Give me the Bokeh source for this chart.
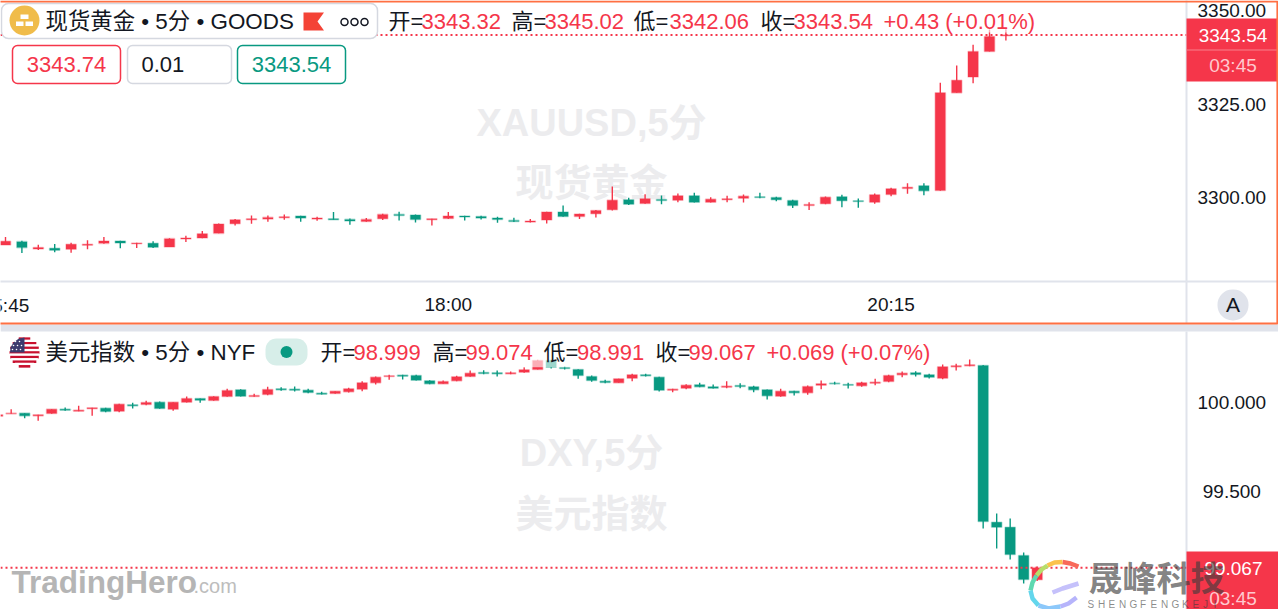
from bokeh.plotting import figure
from bokeh.models import BoxAnnotation, Label, Span, FixedTicker
from bokeh.core.properties import value
from bokeh.embed import file_html
from bokeh.resources import INLINE

# ---------- gold, 5 minute candles ----------
gold_open = [3287.29,3288.18,3286.22,3286.40,3286.13,3287.20,3287.73,3288.36,3287.64,3287.73,3286.76,3288.89,3289.16,3290.40,3292.98,3294.04,3294.22,3294.58,3295.02,3294.22,3294.31,3294.13,3293.60,3294.31,3295.47,3295.29,3294.04,3294.40,3295.02,3294.93,3294.49,3293.87,3293.42,3293.96,3296.09,3294.93,3295.64,3296.71,3299.38,3298.40,3299.47,3299.29,3300.44,3298.76,3299.38,3299.82,3300.18,3300.00,3299.20,3297.87,3298.31,3300.18,3299.11,3298.76,3300.80,3302.41,3303.12,3301.87,3328.02,3332.27,3339.08,3343.32]
gold_high = [3289.42,3288.44,3287.38,3287.56,3287.91,3288.53,3289.42,3288.44,3287.91,3288.27,3289.07,3289.78,3291.02,3293.07,3294.22,3295.20,3295.20,3295.47,3295.11,3294.84,3296.09,3294.40,3294.49,3295.64,3296.18,3295.47,3294.31,3296.09,3295.11,3295.11,3294.84,3294.58,3294.22,3296.18,3297.87,3295.64,3296.62,3302.93,3299.91,3300.89,3300.53,3301.07,3301.24,3300.09,3300.44,3300.80,3301.24,3300.18,3299.38,3298.76,3300.27,3300.71,3299.73,3301.07,3302.58,3303.83,3303.83,3330.70,3335.34,3340.87,3344.98,3345.02]
gold_low = [3287.29,3285.16,3285.96,3285.33,3285.24,3286.13,3287.64,3286.40,3286.49,3286.49,3286.76,3288.09,3289.07,3290.40,3292.53,3292.98,3293.51,3294.04,3293.51,3293.78,3294.04,3292.71,3293.51,3293.96,3293.87,3293.33,3292.53,3294.22,3293.87,3294.13,3293.24,3293.42,3293.33,3293.07,3294.84,3294.22,3294.67,3296.53,3297.96,3298.31,3298.22,3298.76,3298.67,3298.67,3298.76,3298.67,3299.82,3299.02,3297.16,3296.62,3298.22,3297.42,3297.24,3298.31,3300.35,3300.98,3300.62,3301.78,3328.02,3330.61,3339.08,3342.06]
gold_close = [3288.27,3286.58,3286.58,3285.87,3287.47,3287.47,3288.36,3287.82,3287.82,3286.67,3288.98,3289.16,3290.31,3292.89,3294.04,3294.31,3294.67,3294.84,3294.49,3294.49,3294.04,3293.69,3294.13,3295.47,3295.20,3294.13,3294.31,3295.02,3294.76,3294.49,3294.13,3293.60,3293.69,3296.09,3294.93,3295.56,3296.53,3299.29,3298.22,3299.64,3299.20,3300.44,3298.76,3299.56,3299.64,3300.36,3300.00,3299.38,3297.87,3298.13,3300.09,3299.11,3298.93,3300.71,3302.31,3302.76,3301.78,3328.02,3331.41,3339.08,3343.10,3343.54]

# ---------- dollar index, 5 minute candles ----------
dxy_open = [99.9228,99.9360,99.9398,99.9247,99.9379,99.9624,99.9511,99.9643,99.9680,99.9511,99.9868,99.9887,100.0019,99.9624,100.0019,100.0226,100.0113,100.0339,100.0716,100.0339,100.0452,100.0772,100.0754,100.0697,100.0528,100.0509,100.0603,100.0754,100.1111,100.1469,100.1545,100.1526,100.1224,100.1055,100.1224,100.1469,100.1695,100.1676,100.1620,100.1714,100.1865,100.2373,100.1978,100.1865,100.1469,100.1206,100.1111,100.1375,100.1563,100.1431,100.0697,100.0810,100.0998,100.0885,100.0866,100.0961,100.0885,100.0716,100.0358,100.0641,100.0546,100.0980,100.1092,100.1017,100.0942,100.1092,100.1187,100.1563,100.1676,100.1563,100.1375,100.2015,100.2072,100.2090,99.3237,99.2955,99.1356,98.999]
dxy_high = [99.9360,99.9624,99.9398,99.9304,99.9624,99.9718,99.9812,99.9699,99.9699,99.9925,99.9981,100.0094,100.0057,100.0019,100.0339,100.0226,100.0358,100.0772,100.0754,100.0490,100.0885,100.0866,100.0904,100.0772,100.0603,100.0641,100.0829,100.1205,100.1469,100.1563,100.1563,100.1563,100.1262,100.1243,100.1507,100.1808,100.1827,100.1808,100.1752,100.1996,100.2411,100.2411,100.2034,100.1883,100.1526,100.1281,100.1337,100.1620,100.1620,100.1450,100.0772,100.1036,100.1111,100.1017,100.1206,100.1092,100.0942,100.0735,100.0772,100.0659,100.0961,100.1243,100.1168,100.1111,100.1168,100.1337,100.1563,100.1752,100.1770,100.1620,100.2147,100.2185,100.2430,100.2119,99.3729,99.3446,99.1525,99.074]
dxy_low = [99.9209,99.9360,99.9115,99.8965,99.9360,99.9530,99.9511,99.9247,99.9454,99.9454,99.9661,99.9850,99.9643,99.9530,100.0000,99.9981,100.0094,100.0320,100.0339,100.0320,100.0415,100.0659,100.0622,100.0528,100.0452,100.0490,100.0565,100.0641,100.1017,100.1281,100.1300,100.1243,100.1036,100.1055,100.1205,100.1450,100.1601,100.1469,100.1601,100.1676,100.1865,100.1921,100.1865,100.1337,100.1168,100.1092,100.1111,100.1206,100.1469,100.0622,100.0584,100.0754,100.0866,100.0791,100.0810,100.0810,100.0584,100.0170,100.0320,100.0396,100.0433,100.0754,100.1017,100.0791,100.0885,100.0980,100.1149,100.1431,100.1469,100.1356,100.1319,100.1808,100.2053,99.2881,99.1751,99.1130,98.9774,98.991]
dxy_close = [99.9304,99.9398,99.9247,99.9304,99.9624,99.9567,99.9567,99.9699,99.9492,99.9906,99.9812,100.0000,99.9661,100.0019,100.0226,100.0132,100.0339,100.0678,100.0358,100.0396,100.0735,100.0716,100.0697,100.0565,100.0471,100.0641,100.0772,100.1111,100.1432,100.1507,100.1488,100.1262,100.1055,100.1187,100.1450,100.1658,100.1639,100.1620,100.1676,100.1846,100.2373,100.1996,100.1921,100.1526,100.1243,100.1130,100.1337,100.1563,100.1507,100.0697,100.0754,100.0980,100.0885,100.0810,100.0923,100.0904,100.0716,100.0377,100.0641,100.0546,100.0904,100.1055,100.1055,100.0980,100.1111,100.1149,100.1526,100.1658,100.1582,100.1431,100.2015,100.2072,100.2128,99.3277,99.2955,99.1412,99.0000,99.067]

gold_ticks = [3300, 3325, 3350]
gold_tick_labels = ["3300.00", "3325.00", "3350.00"]
dxy_ticks = [99.5, 100]
dxy_tick_labels = ["\u00a099.500", "100.000"]
time_ticks = [27, 54]
time_labels = ["18:00", "20:15"]

RED = "#F5364A"
GREEN = "#089981"
GREY = "#E0E3EB"
INK = "#131722"
FONT = "Liberation Sans, Noto Sans CJK SC"
W, H1, H2 = 1278, 331, 278
FRAME_R = 1186

def abs_style(top):
    return {"position": "absolute", "left": "0px", "top": f"{top}px"}

def make_pane(height, x_range, y_range, bottom, top):
    p = figure(width=W, height=height, x_range=x_range, y_range=y_range,
               output_backend="svg", toolbar_location=None,
               y_axis_location="right", x_axis_location="below" if bottom else None,
               min_border_left=0, min_border_top=0, min_border_right=W - FRAME_R,
               min_border_bottom=bottom, styles=abs_style(top))
    p.grid.visible = False
    p.outline_line_color = None
    p.background_fill_color = "white"
    p.border_fill_color = "white"
    ax = p.yaxis[0]
    ax.major_tick_line_color = None
    ax.minor_tick_line_color = None
    ax.axis_line_color = GREY
    ax.axis_line_width = 2
    ax.major_label_standoff = 5
    ax.major_label_text_font = FONT
    ax.major_label_text_font_size = "19px"
    ax.major_label_text_color = INK
    return p

def candles(p, o, h, l, c, width):
    xs = list(range(len(o)))
    col = [RED if b >= a else GREEN for a, b in zip(o, c)]
    tops = [max(a, b) for a, b in zip(o, c)]
    bots = [min(a, b) for a, b in zip(o, c)]
    p.segment(xs, h, xs, l, line_color=col, line_width=1.4)
    p.vbar(xs, width=width, top=tops, bottom=bots, fill_color=col, line_color=col,
           line_alpha=0.28, line_width=1.6)

def watermark(p, x, y1, y2, s1, s2):
    p.text([x, x], [y1, y2], text=[s1, s2], text_font=value(FONT), text_font_size="38px",
           text_font_style="bold", text_color="#ECECEE", text_align="center",
           text_baseline="middle", level="underlay")

# ===================== top pane =====================
SP1, X01 = 16.4, 5.0
SC1, Y01 = 3.735, 197.0
fx1 = lambda px: (px - X01) / SP1
fy1 = lambda py: 3300 + (Y01 - py) / SC1
p1 = make_pane(H1, (fx1(0), fx1(FRAME_R)), (fy1(281), fy1(0)), H1 - 281, 0)
xa = p1.xaxis[0]
xa.ticker = FixedTicker(ticks=time_ticks)
xa.major_label_overrides = dict(zip(time_ticks, time_labels))
xa.major_tick_line_color = None
xa.minor_tick_line_color = None
xa.axis_line_color = GREY
xa.axis_line_width = 2
xa.major_label_standoff = 6
xa.major_label_text_font = FONT
xa.major_label_text_font_size = "19px"
xa.major_label_text_color = INK
p1.yaxis[0].ticker = FixedTicker(ticks=gold_ticks)
p1.yaxis[0].major_label_overrides = dict(zip(gold_ticks, gold_tick_labels))
watermark(p1, fx1(591), fy1(122), fy1(182), "XAUUSD,5分", "现货黄金")
candles(p1, gold_open, gold_high, gold_low, gold_close, 10.2 / SP1)
p1.add_layout(Span(location=gold_close[-1], dimension="width", line_color=RED,
                   line_width=2, line_dash="2 3"))

# ===================== bottom pane =====================
SP2, X02 = 13.5, -2.83
SC2, Y02 = 177.0, 71.0   # 100.000 sits Y02 pixels under the pane's top edge
fx2 = lambda px: (px - X02) / SP2
fy2 = lambda py: 100 + (Y02 - (py - H1)) / SC2
p2 = make_pane(H2, (fx2(0), fx2(FRAME_R)), (fy2(609), fy2(H1)), 0, H1)
p2.yaxis[0].ticker = FixedTicker(ticks=dxy_ticks)
p2.yaxis[0].major_label_overrides = dict(zip(dxy_ticks, dxy_tick_labels))
watermark(p2, fx2(591), fy2(452), fy2(513), "DXY,5分", "美元指数")
candles(p2, dxy_open, dxy_high, dxy_low, dxy_close, 10.2 / SP2)
p2.add_layout(Label(x=11, y=581 - H1, x_units="canvas", y_units="canvas", text="TradingHero",
                    text_color="#B5B5B5", text_font=FONT, text_font_size="31.5px",
                    text_font_style="bold", text_baseline="middle"))
p2.add_layout(Label(x=193, y=585 - H1, x_units="canvas", y_units="canvas", text=".com",
                    text_color="#BDBDBD", text_font=FONT, text_font_size="20px",
                    text_baseline="middle"))
p2.add_layout(Span(location=dxy_close[-1], dimension="width", line_color=RED,
                   line_width=2, line_dash="2 3", level="overlay"))

# ===================== page furniture, laid over both panes =====================
ov = figure(width=W, height=H1 + H2, x_range=(0, W), y_range=(H1 + H2, 0),
            output_backend="svg", toolbar_location=None, x_axis_location=None,
            y_axis_location=None, min_border=0, styles=abs_style(0))
ov.grid.visible = False
ov.outline_line_color = None
ov.background_fill_alpha = 0
ov.border_fill_alpha = 0

def box(l, r, t, b, fill="white", fa=1.0, line=None, lw=1.0, radius=0):
    ov.add_layout(BoxAnnotation(left=l, right=r, top=t, bottom=b,
                                left_units="canvas", right_units="canvas",
                                top_units="canvas", bottom_units="canvas",
                                fill_color=fill, fill_alpha=fa,
                                line_color=line, line_alpha=1.0 if line else 0, line_width=lw,
                                border_radius=radius, level="annotation"))

def txt(x, y, s, color=INK, size=22.4, align="left", bold=False, alpha=1.0):
    ov.add_layout(Label(x=x, y=y, x_units="canvas", y_units="canvas", text=s,
                        text_color=color, text_font=FONT, text_font_size=f"{size}px",
                        text_align=align, text_baseline="middle", text_alpha=alpha,
                        text_font_style="bold" if bold else "normal", level="overlay"))

# legend of the top pane
box(380, 1042, 4, 32, fa=0.6)
box(1, 377, 3, 38, line="#D5D8E0", lw=1.5, radius=7)
box(12, 120, 45, 83, line=RED, lw=1.5, radius=5)
box(127, 231, 45, 83, line="#D5D8E0", lw=1.5, radius=5)
box(237, 345, 45, 83, line=GREEN, lw=1.5, radius=5)
ov.scatter([24], [20], size=30, fill_color="#F0BC4A", line_color=None, level="overlay")
ov.quad(left=[20, 15.5, 25], right=[28, 23, 32.5], top=[14, 21, 21], bottom=[18.5, 25.5, 25.5],
        fill_color="white", line_color=None, level="overlay")
ov.patch([303, 323.5, 317, 323.5, 303], [12, 12, 21, 30, 30], fill_color="#F44336",
         line_color=None, level="overlay")
ov.scatter([344, 354, 364], [21.5] * 3, size=7, fill_color="white", line_color=INK,
           line_width=1.5, level="overlay")
txt(45, 21, "现货黄金 • 5分 • GOODS")
for x, s, c in [(388, "开=", INK), (421, "3343.32", RED), (511, "高=", INK), (544, "3345.02", RED),
                (633, "低=", INK), (669, "3342.06", RED), (760, "收=", INK), (793, "3343.54", RED),
                (883, "+0.43 (+0.01%)", RED)]:
    txt(x, 21, s, c, 22)
txt(66, 64, "3343.74", RED, 22, "center")
txt(141, 64, "0.01", INK, 22)
txt(291, 64, "3343.54", GREEN, 22, "center")

# price tag, time label cut by the edge, auto button, separator, focus border
box(FRAME_R, W, 18, 81, fill=RED)
box(FRAME_R, W, 49, 50, fill="#F9808C")
txt(1232.5, 35, "3343.54", "white", 19, "center")
txt(1232.5, 65, "03:45", "#FFC9CF", 19, "center")
txt(5, 305, "15:45", INK, 19, "center")
box(FRAME_R, W, 280, 282, fill=GREY)
box(FRAME_R - 1, FRAME_R + 1, 281, 323, fill=GREY)
box(1217, 1248, 289, 320, fill=GREY, radius=15)
txt(1232.5, 304, "A", INK, 21, "center")
box(0, W, 324, H1, fill=GREY)
box(-3, W - 1, 1, 323, fa=0, line="#FF7043", lw=2.2)

# legend of the bottom pane
box(0, 935, 338, 366.7, fa=0.6)
cx, cy, r = 24, 352, 15
stripe = 30 / 13
for k in range(13):
    yc = cy - r + stripe * (k + 0.5)
    half = max(0.0, r * r - (yc - cy) ** 2) ** 0.5
    ov.segment([cx - half], [yc], [cx + half], [yc], line_color="#C8102E" if k % 2 == 0 else "white",
               line_width=2.6, level="overlay")
ov.patch([9.5, 10, 13, 18, 24, 24], [352, 347, 342, 338.3, 337, 352], fill_color="#3C3B6E",
         line_color=None, level="overlay")
ov.scatter([13, 17, 21, 15, 19, 12, 16, 20], [345, 345, 345, 341, 341, 349, 349, 349], size=1.6,
           fill_color="white", line_color=None, level="overlay")
txt(45, 352, "美元指数 • 5分 • NYF")
box(265, 307, 338, 365, fill="#D7EEE9", radius=11)
ov.scatter([286], [351.5], size=12, fill_color=GREEN, line_color=None, level="overlay")
for x, s, c in [(320, "开=", INK), (353, "98.999", RED), (432, "高=", INK), (465, "99.074", RED),
                (543, "低=", INK), (576.5, "98.991", RED), (655, "收=", INK), (688, "99.067", RED),
                (766, "+0.069 (+0.07%)", RED)]:
    txt(x, 352, s, c, 22)

# price tag
box(FRAME_R, W, 551, 609, fill=RED)
txt(1262, 568, "99.067", "white", 19, "right")
txt(1232.5, 598, "03:45", "#FFC9CF", 19, "center")

# Shengfeng logo
arcs = [("#F8695A", [(1078, 566), (1070, 563), (1062, 561.5)]),
        ("#FBC24C", [(1062, 561.5), (1054, 562), (1047, 565)]),
        ("#B7DE6B", [(1047, 565), (1041, 569), (1036, 575)]),
        ("#5FD8B0", [(1036, 575), (1032, 582), (1030, 590)]),
        ("#63D6EC", [(1030, 590), (1032, 598), (1038, 605)]),
        ("#8CC8FA", [(1038, 605), (1048, 608), (1060, 606)]),
        ("#B6B4FB", [(1060, 606), (1068, 603), (1076, 597)]),
        ("#C5C1FB", [(1052, 592), (1062, 588), (1078, 583)])]
for colr, pts in arcs:
    ov.line([a for a, _ in pts], [b for _, b in pts], line_color=colr, line_width=4.5, level="overlay")
txt(1088, 578, "晟峰科技", "#3C3C3C", 34, bold=True, alpha=0.65)
for k, ch in enumerate("SHENGFENGKEJI"):
    txt(1087 + k * 10.5, 604, ch, "#3C3C3C", 10, alpha=0.6)

open("out.html", "w").write(file_html([p1, p2, ov], INLINE))
